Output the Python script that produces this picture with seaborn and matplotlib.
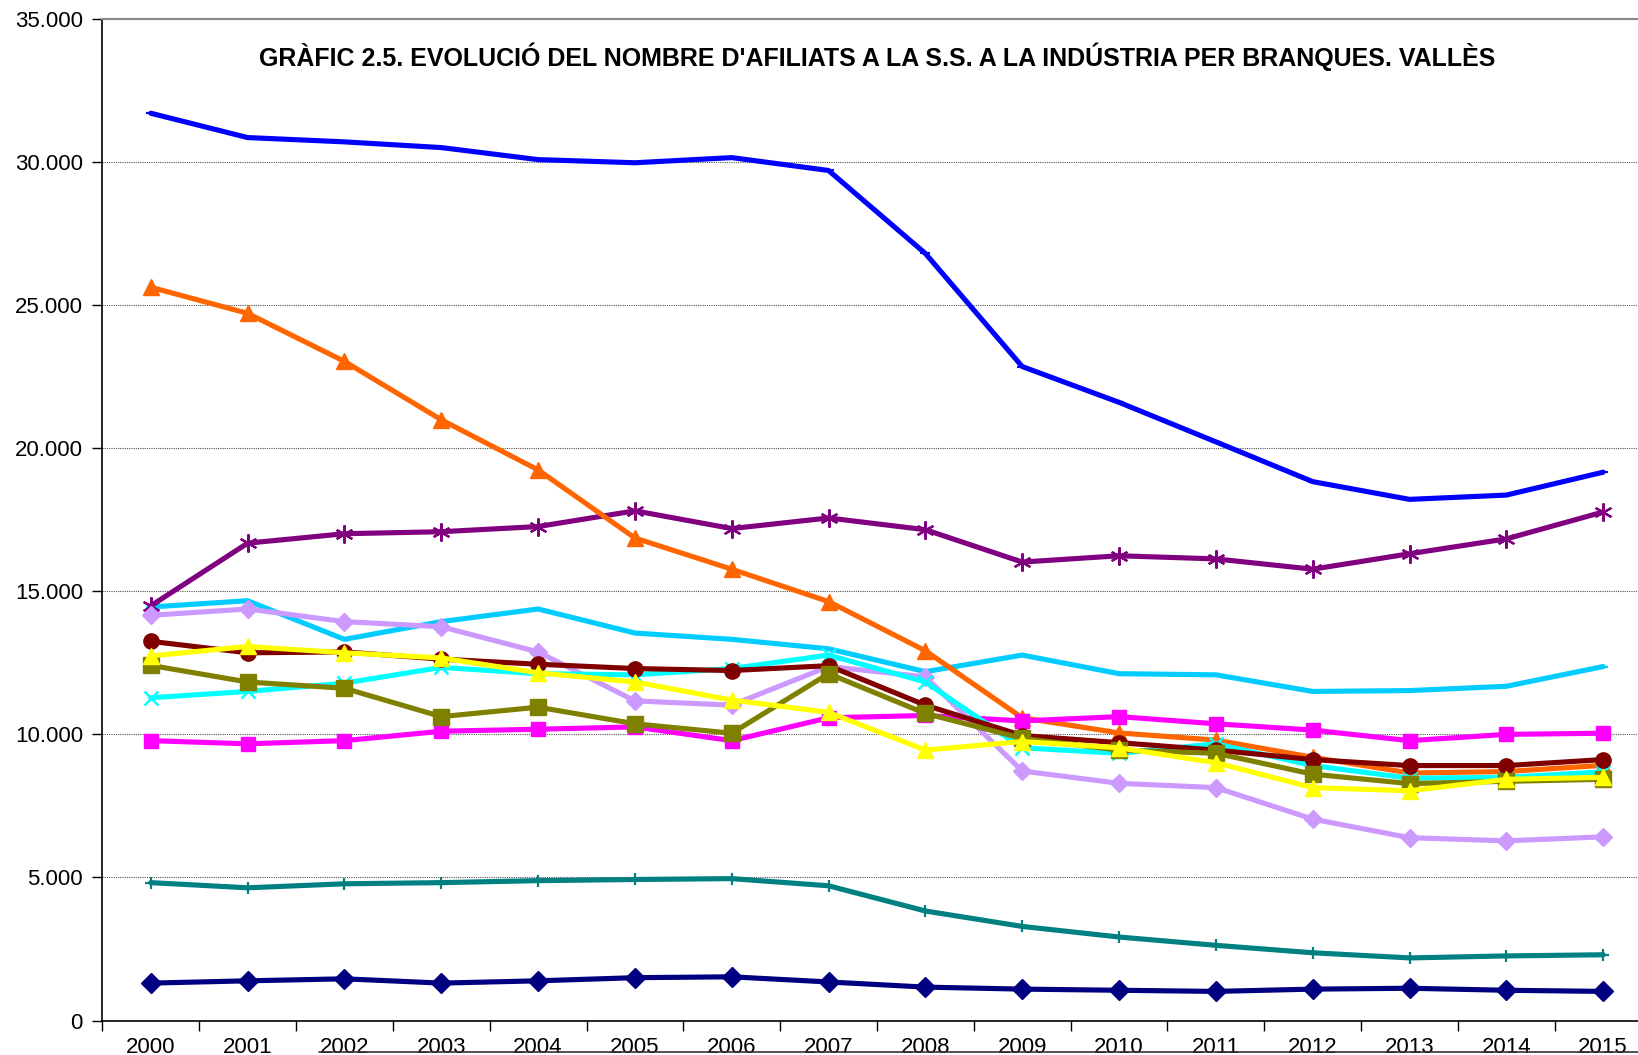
import matplotlib
matplotlib.use("Agg")
import matplotlib.pyplot as plt
from matplotlib.lines import Line2D
from matplotlib.ticker import FuncFormatter, MultipleLocator
import seaborn as sns
import numpy as np

# ------------------------------------------------------------------
# Data
# ------------------------------------------------------------------
years = [str(y) for y in range(2000, 2016)]

branca_blau = [31700, 30850, 30700, 30500, 30080, 29970, 30150, 29700,
               26800, 22850, 21600, 20220, 18830, 18210, 18360, 19160]
branca_taronja = [25620, 24710, 23030, 20990, 19240, 16860, 15770, 14640,
                  12920, 10580, 10050, 9800, 9200, 8650, 8700, 8920]
branca_lila = [14490, 16680, 17010, 17080, 17260, 17810, 17190, 17560,
               17150, 16020, 16240, 16130, 15770, 16310, 16830, 17770]
branca_celeste = [14450, 14670, 13320, 13940, 14380, 13540, 13320, 12990,
                  12190, 12770, 12120, 12080, 11500, 11530, 11680, 12370]
branca_lavanda = [14160, 14380, 13940, 13760, 12880, 11170, 11020, 12370,
                  12010, 8720, 8290, 8140, 7040, 6390, 6280, 6420]
branca_granat = [13250, 12850, 12880, 12630, 12450, 12300, 12230, 12400,
                 11020, 9960, 9710, 9450, 9120, 8910, 8910, 9120]
branca_groc = [12740, 13070, 12850, 12670, 12150, 11830, 11200, 10770,
               9450, 9750, 9530, 9010, 8140, 8030, 8430, 8500]
branca_oliva = [12410, 11830, 11610, 10620, 10950, 10370, 10040, 12120,
                10730, 9860, 9450, 9340, 8610, 8280, 8360, 8430]
branca_cian = [11280, 11500, 11790, 12340, 12120, 12080, 12300, 12770,
               11830, 9530, 9340, 9670, 8910, 8470, 8500, 8690]
branca_magenta = [9780, 9670, 9780, 10110, 10180, 10260, 9780, 10580,
                  10660, 10470, 10620, 10370, 10150, 9780, 10000, 10040]
branca_verdos = [4820, 4640, 4780, 4820, 4890, 4930, 4960, 4710,
                 3830, 3290, 2920, 2630, 2370, 2190, 2260, 2300]
branca_marina = [1310, 1390, 1460, 1310, 1390, 1500, 1530, 1350,
                 1170, 1100, 1060, 1020, 1100, 1130, 1060, 1020]

title = "GRÀFIC 2.5. EVOLUCIÓ DEL NOMBRE D'AFILIATS A LA S.S. A LA INDÚSTRIA PER BRANQUES. VALLÈS"

# drawing order: bottom -> top
series = [
    (branca_marina, "#000080", "D", 10, 1.0),
    (branca_verdos, "#008080", "+", 9, 1.6),
    (branca_blau, "#0000FF", "_", 7, 1.5),
    (branca_celeste, "#00CCFF", "_", 7, 1.5),
    (branca_lila, "#800080", (6, 2, 0), 13, 1.6),
    (branca_taronja, "#FF6600", "^", 11, 1.0),
    (branca_magenta, "#FF00FF", "s", 10, 1.0),
    (branca_lavanda, "#CC99FF", "D", 9, 1.0),
    (branca_cian, "#00FFFF", "x", 10, 1.8),
    (branca_granat, "#800000", "o", 11, 1.0),
    (branca_oliva, "#808000", "s", 11, 1.0),
    (branca_groc, "#FFFF00", "^", 11, 1.0),
]

# ------------------------------------------------------------------
# Plot
# ------------------------------------------------------------------
sns.set_theme(style="white")
plt.rcParams["font.family"] = ["Liberation Sans", "DejaVu Sans"]

fig = plt.figure(figsize=(16.38, 10.55), dpi=100)
ax = fig.add_axes([0.0625, 0.0326, 0.9458, 0.9496])

x = np.arange(len(years))
for vals, color, marker, ms, mew in series:
    sns.lineplot(x=x, y=vals, ax=ax, color=color, linewidth=3.7,
                 marker=marker, markersize=ms, markeredgewidth=mew,
                 markeredgecolor=color, markerfacecolor=color, sort=False)

ax.set_xlim(-0.5, len(years) - 0.5)
ax.set_ylim(0, 35000)

ax.yaxis.set_major_locator(MultipleLocator(5000))
ax.yaxis.set_major_formatter(FuncFormatter(lambda v, p: f"{int(v):,}".replace(",", ".")))
ax.grid(axis="y", color="#555555", linestyle=(0, (1, 1)), linewidth=0.8)
ax.grid(axis="x", visible=False)

ax.set_xticks(x)
ax.set_xticklabels(years)
ax.set_xticks(np.arange(-0.5, len(years), 1), minor=True)
ax.tick_params(axis="x", which="major", length=0, pad=12, labelsize=16, colors="black")
ax.tick_params(axis="x", which="minor", length=7, width=1, direction="out", color="black", bottom=True)
ax.tick_params(axis="y", which="major", length=7, width=1, direction="out", left=True,
               labelsize=16, colors="black", pad=7)

for side in ["left", "bottom"]:
    ax.spines[side].set_color("black")
    ax.spines[side].set_linewidth(1.2)
ax.spines["top"].set_color("#888888")
ax.spines["top"].set_linewidth(1.5)
ax.spines["right"].set_visible(False)

ax.text(0.5, 0.962, title, transform=ax.transAxes, ha="center", va="center",
        fontsize=18, fontweight="bold", color="black")

# top edge of the (cropped) legend box below the axis labels
fig.add_artist(Line2D([0.195, 1.0], [0.003, 0.003], color="#333333", linewidth=1.2))

fig.savefig("out.png", dpi=100)
